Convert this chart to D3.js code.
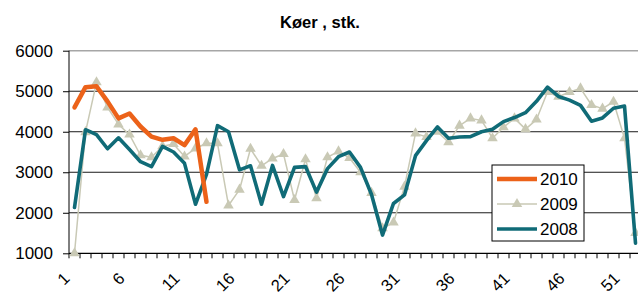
<!DOCTYPE html>
<html>
<head>
<meta charset="utf-8">
<script src="https://cdn.jsdelivr.net/npm/d3@7"></script>
<style>
  body { margin: 0; background: #fff; }
  svg { display: block; font-family: "Liberation Sans", Arial, sans-serif; }
</style>
</head>
<body>
<div id="chart"></div>
<script>
(function () {
    // --- Datos ---
    const weeks = d3.range(1, 54);
    const tickLabels = ["1", "6", "11", "16", "21", "26", "31", "36", "41", "46", "51"];
    const yTicks = [1000, 2000, 3000, 4000, 5000, 6000];

    const s2010 = [4600, 5100, 5120, 4750, 4330, 4450, 4130, 3880, 3800, 3840, 3670, 4060, 2270];
    const s2009 = [1000, 3990, 5220, 4600, 4180, 3930, 3420, 3370, 3640, 3700, 3390, 3590, 3715,
        3715, 2180, 2570, 3580, 3160, 3340, 3450, 2315, 3320, 2357, 3370, 3515, 3350, 3000,
        2490, 1617, 1760, 2645, 3960, 3870, 4000, 3740, 4150, 4330, 4280, 3840, 4110, 4330,
        4065, 4300, 4980, 4865, 4980, 5070, 4660, 4570, 4740, 3840, 1500];
    const s2008 = [2130, 4050, 3930, 3580, 3850, 3560, 3260, 3140, 3640, 3500, 3220, 2210, 2950,
        4150, 4000, 3060, 3160, 2210, 3170, 2400, 3120, 3140, 2510, 3090, 3385, 3500, 3120,
        2450, 1450, 2230, 2440, 3410, 3780, 4120, 3840, 3870, 3880, 4000, 4060, 4250, 4350,
        4470, 4750, 5100, 4870, 4780, 4650, 4260, 4340, 4580, 4635, 1250];

    const series = [
        { name: "2010", values: s2010, color: "#EC6219", width: 4.5, marker: false },
        { name: "2009", values: s2009, color: "#C9C9B5", width: 1.5, marker: true },
        { name: "2008", values: s2008, color: "#106B77", width: 3.6, marker: false }
    ];

    const width = 638, height = 294;
    const svg = d3.select("#chart").append("svg")
        .attr("width", width).attr("height", height);

    const x = d3.scaleBand().domain(weeks).range([69, 69 + 53 * 11]).paddingInner(0).paddingOuter(0);
    const y = d3.scaleLinear().domain([1000, 6000]).range([253.3, 50.7]);
    const cx = w => x(w) + x.bandwidth() / 2;

    // Titulo
    svg.append("text")
        .attr("x", 320).attr("y", 28)
        .attr("text-anchor", "middle")
        .attr("font-weight", "bold")
        .attr("font-size", 16.5)
        .text("Køer , stk.");

    // Lineas de cuadricula
    svg.append("g").selectAll("line").data(yTicks.filter(v => v > 1000)).join("line")
        .attr("x1", x.range()[0]).attr("x2", x.range()[1])
        .attr("y1", d => y(d)).attr("y2", d => y(d))
        .attr("stroke", d => d === 6000 ? "#a6a6a6" : "#1a1a1a")
        .attr("stroke-width", d => d === 6000 ? 1.5 : 1);

    // Eje Y
    const yAxis = svg.append("g").attr("transform", "translate(69,0)")
        .call(d3.axisLeft(y).tickValues(yTicks).tickSize(6).tickPadding(10).tickFormat(d3.format("d")));
    yAxis.select(".domain").attr("stroke", "#000").attr("d", `M0,${y(1000)}V${y(6000)}`);
    yAxis.selectAll(".tick line").attr("stroke", "#000");
    yAxis.selectAll("text").attr("font-size", 17).attr("fill", "#000")
        .attr("font-family", "Liberation Sans, Arial, sans-serif");

    // Eje X
    const xg = svg.append("g");
    xg.append("line")
        .attr("x1", x.range()[0]).attr("x2", x.range()[1])
        .attr("y1", y(1000)).attr("y2", y(1000))
        .attr("stroke", "#000").attr("stroke-width", 1.2);
    xg.selectAll("line.tk").data(weeks).join("line").attr("class", "tk")
        .attr("x1", d => x(d)).attr("x2", d => x(d))
        .attr("y1", y(1000)).attr("y2", y(1000) + 5)
        .attr("stroke", "#000");
    xg.selectAll("text").data(tickLabels).join("text")
        .attr("transform", d => `translate(${cx(+d) - 12},${y(1000) + 18}) rotate(-45)`)
        .attr("text-anchor", "end")
        .attr("dy", "0.7em")
        .attr("font-size", 16.5)
        .text(d => d);

    // Lineas de series
    const line = d3.line().x((d, i) => cx(weeks[i])).y(d => y(d));
    const drawOrder = [series[1], series[2], series[0]];
    drawOrder.forEach(s => {
        svg.append("path")
            .datum(s.values)
            .attr("fill", "none")
            .attr("stroke", s.color)
            .attr("stroke-width", s.width)
            .attr("stroke-linejoin", "round")
            .attr("stroke-linecap", "round")
            .attr("d", line);
        if (s.marker) {
            svg.append("g").selectAll("path").data(s.values).join("path")
                .attr("transform", (d, i) => `translate(${cx(weeks[i])},${y(d)})`)
                .attr("d", d3.symbol(d3.symbolTriangle, 48))
                .attr("fill", s.color);
        }
    });

    // Leyenda
    const lg = svg.append("g").attr("transform", "translate(492,165)");
    lg.append("rect").attr("width", 92).attr("height", 76)
        .attr("fill", "#fff").attr("stroke", "#000").attr("stroke-width", 1);
    series.forEach((s, i) => {
        const yy = 14 + i * 25;
        lg.append("line").attr("x1", 5).attr("x2", 45).attr("y1", yy).attr("y2", yy)
            .attr("stroke", s.color).attr("stroke-width", s.width);
        if (s.marker) {
            lg.append("path").attr("transform", `translate(25,${yy})`)
                .attr("d", d3.symbol(d3.symbolTriangle, 48)).attr("fill", s.color);
        }
        lg.append("text").attr("x", 48).attr("y", yy + 6)
            .attr("font-size", 17).text(s.name);
    });
})();
</script>
</body>
</html>
